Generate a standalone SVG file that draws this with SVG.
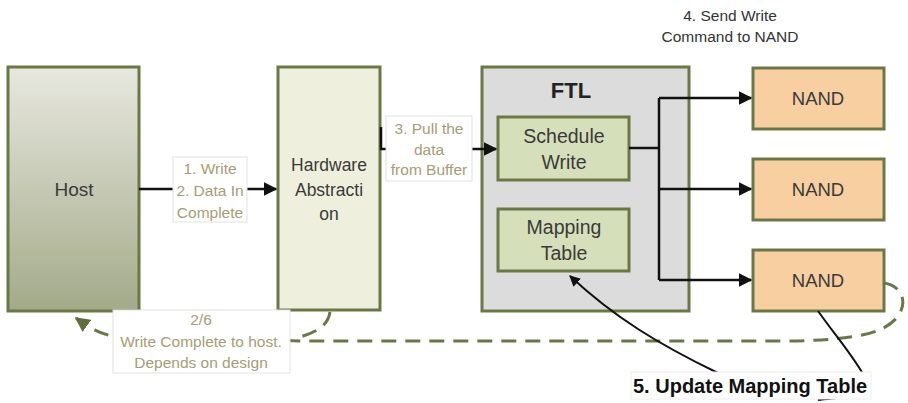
<svg xmlns="http://www.w3.org/2000/svg" width="908" height="403" viewBox="0 0 908 403">
  <defs>
    <linearGradient id="hostFill" x1="0" y1="0" x2="0" y2="1">
      <stop offset="0" stop-color="#e8e8df"/>
      <stop offset="1" stop-color="#a3aa89"/>
    </linearGradient>
    <marker id="arrow" viewBox="0 0 10 10" refX="9" refY="5" markerWidth="5.5" markerHeight="5.5" orient="auto">
      <path d="M0,0 L10,5 L0,10 Z" fill="#111"/>
    </marker>
    <marker id="arrowOlive" viewBox="0 0 10 10" refX="9" refY="5" markerWidth="5" markerHeight="5" orient="auto">
      <path d="M0,0 L10,5 L0,10 Z" fill="#5f6e3c"/>
    </marker>
  </defs>
  <style>
    .box { stroke: #6a7845; stroke-width: 3; }
    .node-text { font-family: "Liberation Sans", Arial, sans-serif; fill: #3a3a3a; text-anchor: middle; }
    .label-text { font-family: "Liberation Sans", Arial, sans-serif; fill: #a89c74; text-anchor: middle; font-size: 15.5px; }
    .label-bg { fill: #ffffff; stroke: #e2e2e2; stroke-width: 1; }
    .wire { fill: none; stroke: #111; stroke-width: 2.5; }
    .dash { fill: none; stroke: #6a7845; stroke-width: 3; stroke-dasharray: 15 9; }
  </style>

  <!-- Host -->
  <g id="host">
    <rect class="box" x="8" y="67" width="131" height="244" fill="url(#hostFill)"/>
    <text class="node-text" x="74" y="196" font-size="19">Host</text>
  </g>

  <!-- Hardware Abstraction -->
  <g id="hardware-abstraction">
    <rect class="box" x="278" y="67" width="102" height="243" fill="#eef0dd"/>
    <text class="node-text" x="329" y="171" font-size="17.5">Hardware</text>
    <text class="node-text" x="329" y="196" font-size="17.5">Abstracti</text>
    <text class="node-text" x="329" y="220" font-size="17.5">on</text>
  </g>

  <!-- FTL -->
  <g id="ftl">
    <rect class="box" x="482" y="67" width="207" height="244" fill="#dcdcdc"/>
    <text class="node-text" x="571" y="98" font-size="22" font-weight="bold" style="fill:#222">FTL</text>
  </g>

  <g id="schedule-write">
    <rect class="box" x="498" y="117" width="131" height="63" fill="#d5dfb9"/>
    <text class="node-text" x="564" y="143" font-size="19.5">Schedule</text>
    <text class="node-text" x="564" y="169" font-size="19.5">Write</text>
  </g>

  <g id="mapping-table">
    <rect class="box" x="498" y="209" width="131" height="62" fill="#d5dfb9"/>
    <text class="node-text" x="564" y="234" font-size="19.5">Mapping</text>
    <text class="node-text" x="564" y="260" font-size="19.5">Table</text>
  </g>

  <!-- NAND dies -->
  <g id="nand-1">
    <rect class="box" x="753" y="68" width="131" height="61" fill="#f7cfa1"/>
    <text class="node-text" x="818" y="105" font-size="18.5">NAND</text>
  </g>
  <g id="nand-2">
    <rect class="box" x="753" y="159" width="131" height="61" fill="#f7cfa1"/>
    <text class="node-text" x="818" y="196" font-size="18.5">NAND</text>
  </g>
  <g id="nand-3">
    <rect class="box" x="753" y="250" width="131" height="61" fill="#f7cfa1"/>
    <text class="node-text" x="818" y="287" font-size="18.5">NAND</text>
  </g>

  <!-- connectors -->
  <g id="connectors">
    <!-- write request from host -->
    <path class="wire" d="M139,189 H276" marker-end="url(#arrow)"/>
    <!-- pull data from buffer -->
    <path class="wire" d="M381,127 V149 H496" marker-end="url(#arrow)"/>
    <!-- schedule write fan-out to NAND dies -->
    <path class="wire" d="M629,148 H659"/>
    <path class="wire" d="M659,98 V280"/>
    <path class="wire" d="M659,98 H751" marker-end="url(#arrow)"/>
    <path class="wire" d="M659,189 H751" marker-end="url(#arrow)"/>
    <path class="wire" d="M659,280 H751" marker-end="url(#arrow)"/>
    <!-- completion path back to host -->
    <path class="dash" d="M884,283 C912,287 912,326 862,335 C835,340 810,341 780,341 L300,341 L112,336 C98,333 90,328 76,318" marker-end="url(#arrowOlive)"/>
    <path class="dash" d="M330,312 C328,326 316,333 296,338"/>
    <!-- mapping table update -->
    <path fill="none" stroke="#111" stroke-width="2" d="M818,311 C835,335 850,352 863,374"/>
    <path fill="none" stroke="#111" stroke-width="2" d="M818,400 C835,398 850,397 864,394"/>
    <path fill="none" stroke="#111" stroke-width="2" d="M718,373 C660,345 615,318 570,276" marker-end="url(#arrow)"/>
  </g>

  <!-- connector labels -->
  <g id="label-write">
    <rect class="label-bg" x="173" y="157" width="74" height="65"/>
    <text class="label-text" x="210" y="174">1. Write</text>
    <text class="label-text" x="210" y="196">2. Data In</text>
    <text class="label-text" x="210" y="218">Complete</text>
  </g>

  <g id="label-pull">
    <rect class="label-bg" x="386" y="116" width="86" height="65"/>
    <text class="label-text" x="429" y="134">3. Pull the</text>
    <text class="label-text" x="429" y="155">data</text>
    <text class="label-text" x="429" y="175">from Buffer</text>
  </g>

  <g id="label-send">
    <text class="node-text" x="730" y="21" font-size="15.5" style="fill:#333">4. Send Write</text>
    <text class="node-text" x="730" y="42" font-size="15.5" style="fill:#333">Command to NAND</text>
  </g>

  <g id="label-complete">
    <rect class="label-bg" x="113" y="310" width="177" height="63"/>
    <text class="label-text" x="201" y="325">2/6</text>
    <text class="label-text" x="201" y="347">Write Complete to host.</text>
    <text class="label-text" x="201" y="368">Depends on design</text>
  </g>

  <g id="label-update">
    <rect fill="#fff" stroke="#eeeeee" stroke-width="1" x="631" y="372" width="240" height="27"/>
    <text x="633" y="393" font-family="Liberation Sans, Arial, sans-serif" font-size="20" font-weight="bold" fill="#111">5. Update Mapping Table</text>
  </g>
</svg>
